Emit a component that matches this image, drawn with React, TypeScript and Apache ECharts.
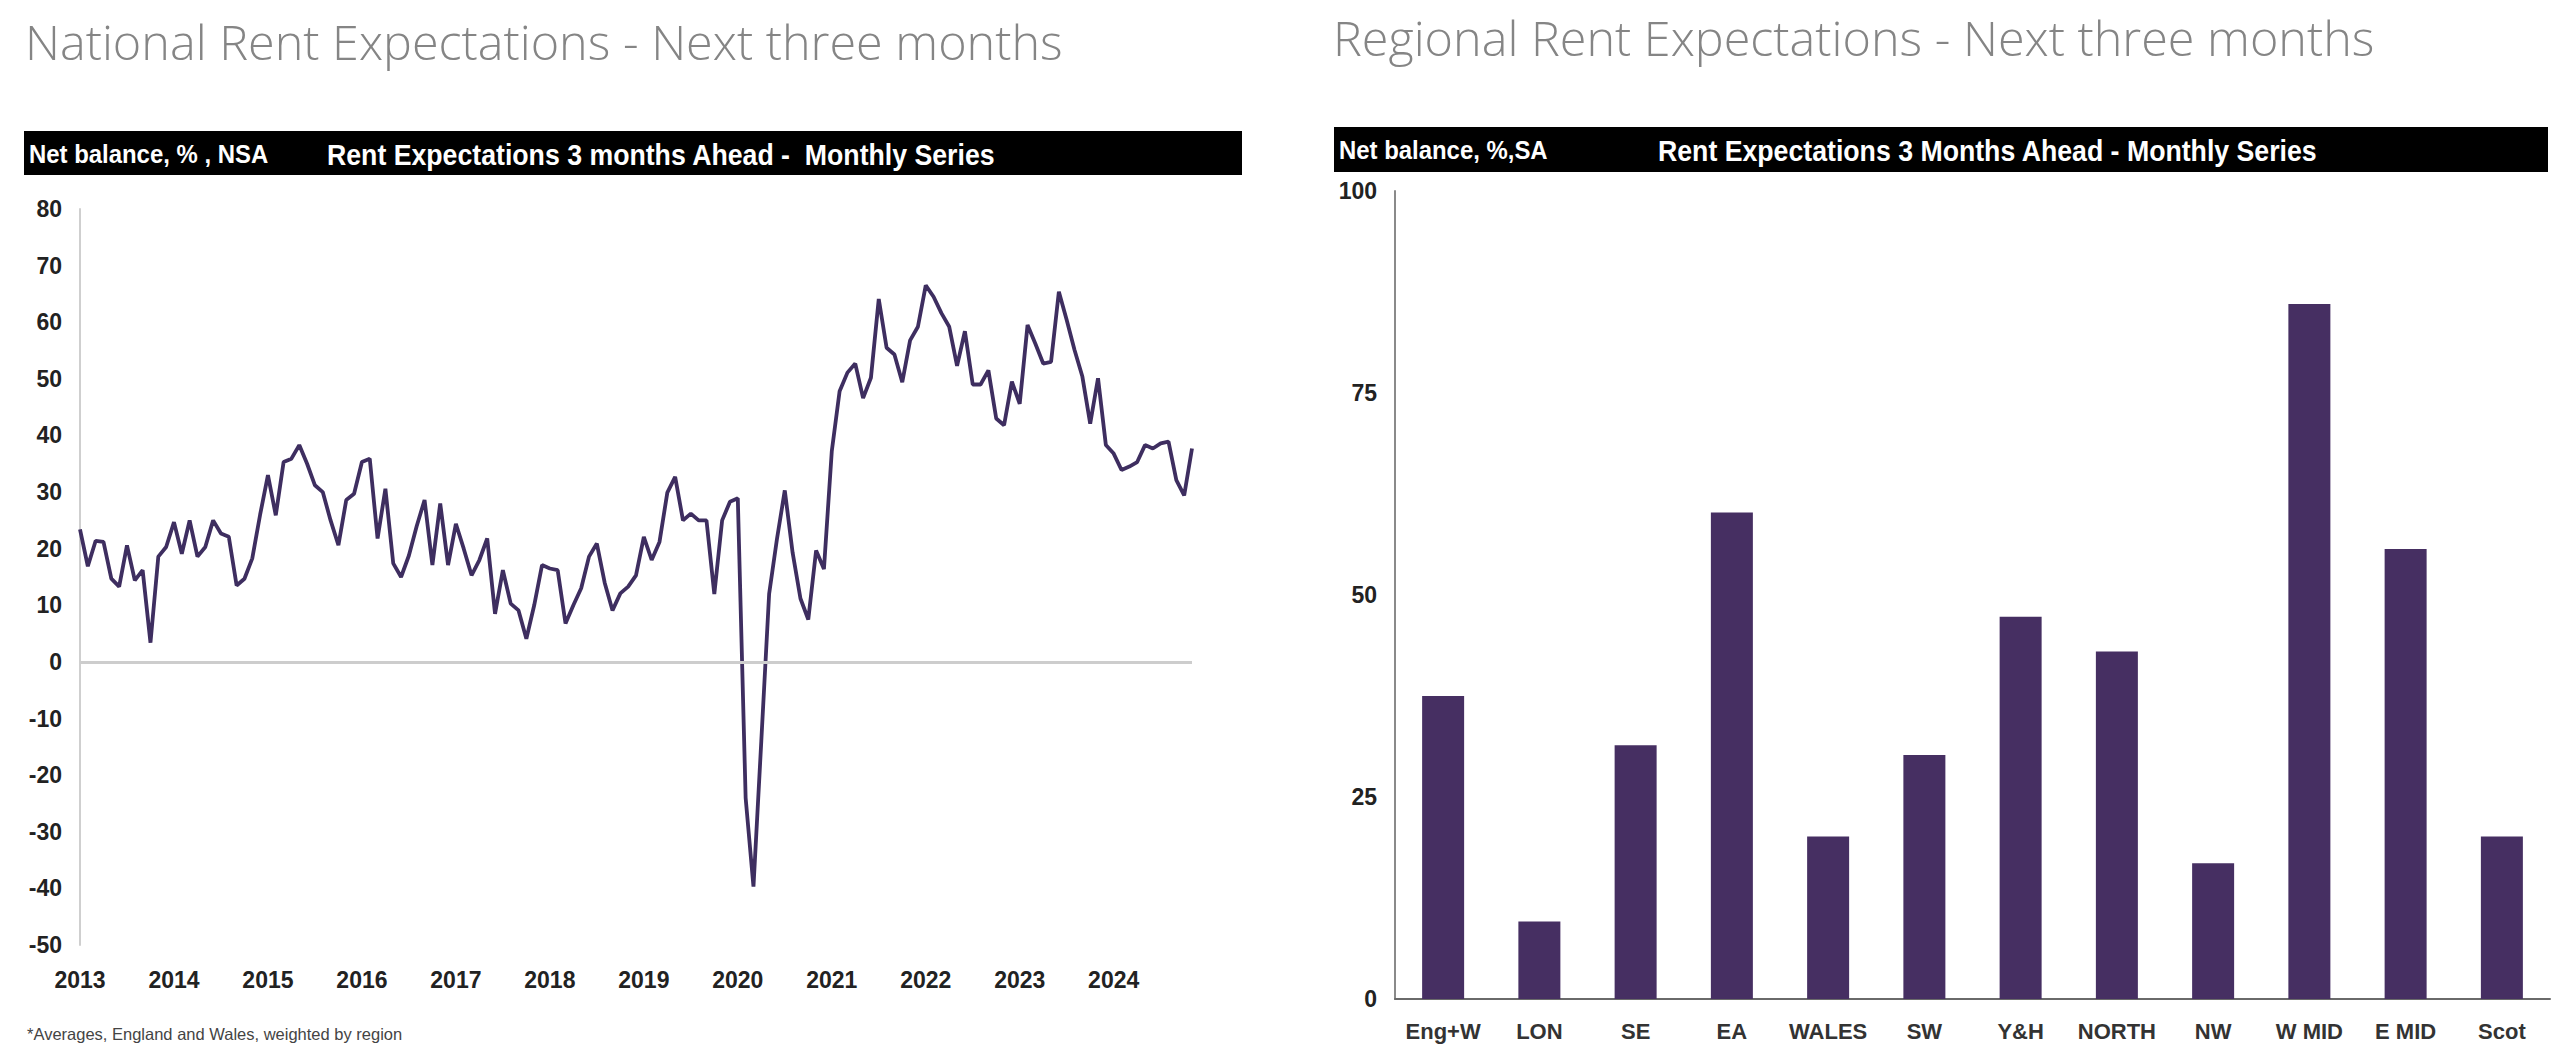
import React, { useEffect, useRef } from "react";
import * as echarts from "echarts";

const yearLabels = ["2013", "2014", "2015", "2016", "2017", "2018", "2019", "2020", "2021", "2022", "2023", "2024"];

// Monthly net balance, Jan 2013 - Nov 2024
const nationalBalance = [
  23.4, 16.9, 21.4, 21.2, 14.7, 13.3, 20.6, 14.4, 16.2, 3.4, 18.6, 20.3,
  24.7, 19.1, 25.0, 18.6, 20.3, 25.0, 22.7, 22.1, 13.5, 14.7, 18.3, 26.0,
  33.0, 25.9, 35.3, 35.9, 38.3, 35.0, 31.2, 30.0, 25.0, 20.6, 28.6, 29.7,
  35.3, 35.9, 21.8, 30.6, 17.4, 15.0, 18.8, 24.0, 28.6, 17.1, 28.0, 17.1,
  24.4, 20.0, 15.3, 18.0, 21.8, 8.5, 16.2, 10.3, 9.1, 4.1, 10.0, 17.1,
  16.5, 16.2, 6.8, 10.0, 13.0, 18.6, 20.9, 14.0, 9.1, 12.1, 13.3, 15.3,
  22.1, 18.0, 21.2, 29.9, 32.7, 25.0, 26.2, 25.0, 25.0, 12.0, 25.0, 28.3,
  28.9, -24.0, -39.7, -14.0, 12.0, 21.7, 30.3, 19.3, 11.2, 7.5, 19.7, 16.4,
  37.2, 47.8, 51.1, 52.7, 46.6, 50.2, 64.1, 55.5, 54.3, 49.4, 56.8, 59.2,
  66.5, 64.5, 61.6, 59.2, 52.3, 58.4, 49.0, 49.0, 51.5, 43.0, 41.8, 49.5,
  45.6, 59.5, 56.2, 52.7, 53.0, 65.4, 60.4, 55.1, 50.4, 42.1, 50.1, 38.3,
  36.8, 33.9, 34.5, 35.3, 38.3, 37.7, 38.6, 38.9, 32.1, 29.4, 37.7,
];

const regions = ["Eng+W", "LON", "SE", "EA", "WALES", "SW", "Y&H", "NORTH", "NW", "W MID", "E MID", "Scot"];
const regionalBalance = [37.5, 9.6, 31.4, 60.2, 20.1, 30.2, 47.3, 43.0, 16.8, 86.0, 55.7, 20.1];

const NARROW = "'Liberation Sans Narrow', 'Liberation Sans', Arial, sans-serif";
const LIGHT = "'Open Sans', 'Noto Sans', sans-serif";

export default function App() {
  const ref = useRef<HTMLDivElement>(null);

  useEffect(() => {
    if (!ref.current) return;
    const chart = echarts.init(ref.current, null, { renderer: "svg" });

    const months: string[] = [];
    yearLabels.forEach((y) => {
      for (let m = 1; m <= 12; m++) months.push(y + "-" + (m < 10 ? "0" + m : m));
    });
    const monthCats = months.slice(0, nationalBalance.length);

    const tickLabel = {
      color: "#222",
      fontFamily: NARROW,
      fontWeight: "bold" as const,
      fontSize: 23,
    };

    const headerText = (text: string, x: number, y: number, size: number, sx: number) => ({
      type: "text",
      x,
      y,
      scaleX: sx,
      style: {
        text,
        fill: "#fff",
        fontSize: size,
        fontWeight: "bold",
        fontFamily: NARROW,
        verticalAlign: "middle",
      },
    });

    chart.setOption({
      animation: false,
      backgroundColor: "#ffffff",
      grid: [
        { left: 80, right: 1368, top: 209, bottom: 119 },
        { left: 1395, right: 10, top: 191, bottom: 65 },
      ],
      xAxis: [
        {
          gridIndex: 0,
          type: "category",
          data: monthCats,
          boundaryGap: false,
          axisLine: { show: false },
          axisTick: { show: false },
          splitLine: { show: false },
          axisLabel: {
            ...tickLabel,
            interval: 11,
            margin: 23,
            formatter: (v: string) => v.slice(0, 4),
          },
        },
        {
          gridIndex: 1,
          type: "category",
          data: regions,
          axisLine: { show: true, lineStyle: { color: "#6a6a6a", width: 2 } },
          axisTick: { show: false },
          axisLabel: { ...tickLabel, color: "#333", fontSize: 22, interval: 0, margin: 21 },
        },
      ],
      yAxis: [
        {
          gridIndex: 0,
          type: "value",
          min: -50,
          max: 80,
          interval: 10,
          axisLine: { show: true, lineStyle: { color: "#cfcfcf", width: 2 } },
          axisTick: { show: false },
          splitLine: { show: false },
          axisLabel: { ...tickLabel, margin: 18 },
        },
        {
          gridIndex: 1,
          type: "value",
          min: 0,
          max: 100,
          interval: 25,
          axisLine: { show: true, lineStyle: { color: "#8a8a8a", width: 2 } },
          axisTick: { show: false },
          splitLine: { show: false },
          axisLabel: { ...tickLabel, margin: 18 },
        },
      ],
      series: [
        {
          type: "line",
          xAxisIndex: 0,
          yAxisIndex: 0,
          data: [],
          z: 1,
          markLine: {
            silent: true,
            symbol: ["none", "none"],
            label: { show: false },
            lineStyle: { color: "#cdcdcd", width: 3, type: "solid" },
            data: [{ yAxis: 0 }],
          },
        },
        {
          type: "line",
          xAxisIndex: 0,
          yAxisIndex: 0,
          data: nationalBalance,
          symbol: "none",
          z: 3,
          lineStyle: { color: "#3e2e60", width: 3.8 },
        },
        {
          type: "bar",
          xAxisIndex: 1,
          yAxisIndex: 1,
          data: regionalBalance,
          barWidth: 42,
          itemStyle: { color: "#462f62" },
        },
      ],
      graphic: [
        {
          type: "text",
          x: 25,
          y: 41,
          style: {
            text: "National Rent Expectations - Next three months",
            fill: "#858585",
            fontSize: 48.5,
            fontWeight: 300,
            fontFamily: LIGHT,
            verticalAlign: "middle",
          },
        },
        {
          type: "text",
          x: 1333,
          y: 37,
          style: {
            text: "Regional Rent Expectations - Next three months",
            fill: "#858585",
            fontSize: 48.5,
            fontWeight: 300,
            fontFamily: LIGHT,
            verticalAlign: "middle",
          },
        },
        { type: "rect", shape: { x: 24, y: 131, width: 1218, height: 44 }, style: { fill: "#000" } },
        headerText("Net balance, % , NSA", 29, 154, 26, 0.92),
        headerText("Rent Expectations 3 months Ahead -  Monthly Series", 327, 154, 30, 0.89),
        { type: "rect", shape: { x: 1334, y: 127, width: 1214, height: 45 }, style: { fill: "#000" } },
        headerText("Net balance, %,SA", 1339, 150, 26, 0.92),
        headerText("Rent Expectations 3 Months Ahead - Monthly Series", 1658, 150, 30, 0.89),
        {
          type: "text",
          x: 27,
          y: 1034,
          style: {
            text: "*Averages, England and Wales, weighted by region",
            fill: "#444",
            fontSize: 16.5,
            fontFamily: NARROW,
            verticalAlign: "middle",
          },
        },
      ],
    });

    return () => chart.dispose();
  }, []);

  return (
    <div
      ref={ref}
      style={{ position: "absolute", left: 0, top: 0, width: 2560, height: 1064, background: "#fff" }}
    />
  );
}
